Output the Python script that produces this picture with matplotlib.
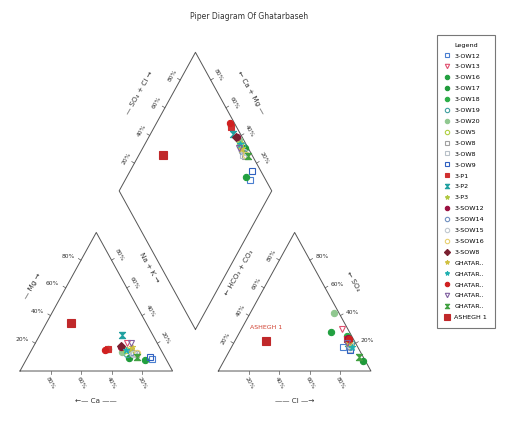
import numpy as np
import matplotlib.pyplot as plt
from matplotlib.path import Path

# Sample names, as in the legend
names = ['3-OW12', '3-OW13', '3-OW16', '3-OW17', '3-OW18', '3-OW19', '3-OW20',
         '3-OW5', '3-OW8', '3-OW8', '3-OW9', '3-P1', '3-P2', '3-P3', '3-SOW12',
         '3-SOW14', '3-SOW15', '3-SOW16', '3-SOW8', 'GHATAR..', 'GHATAR..',
         'GHATAR..', 'GHATAR..', 'GHATAR..', 'ASHEGH 1']

# Cations (% meq)
mg = [9, 20, 8, 9.5, 16, 12, 14, 15, 12, 13, 10, 16, 26, 16, 17, 14, 12, 13, 18,
      17, 15, 15, 20, 10, 35]
nak = [82, 60, 78, 67, 50, 64, 60, 62, 70, 68, 80, 50, 54, 65, 58, 66, 68, 70, 57,
       65, 62, 48, 63, 72, 16]
ca = [100 - a - b for a, b in zip(mg, nak)]

# Anions (% meq)
so4 = [17, 30, 28, 7, 25, 20, 42, 22, 18, 16, 15, 23, 20, 18, 24, 17, 19, 21, 22,
       20, 17, 23, 20, 10, 22]
cl = [73, 66, 60, 91, 72, 77, 55, 74, 77, 78, 79, 73, 75, 78, 73, 78, 77, 75, 74,
      75, 79, 74, 74, 87, 20]
hco3 = [100 - a - b for a, b in zip(so4, cl)]

# Marker style for each sample: (marker, colour, filled)
hourglass = Path([(-1, 1), (1, 1), (-1, -1), (1, -1), (-1, 1)])
styles = [('s', '#4a7fd0', False), ('v', '#e05070', False), ('o', '#22a040', True),
          ('o', '#1f9a3a', True), ('o', '#2cae48', True), ('o', '#40a0a0', False),
          ('o', '#90c890', True), ('o', '#b0d040', False), ('s', '#a0a0a0', False),
          ('s', '#b8c0c8', False), ('s', '#3060c0', False), ('s', '#d03030', True),
          (hourglass, '#20a0a0', True), ('*', '#b0c840', True), ('o', '#9a1040', True),
          ('o', '#7090c0', False), ('o', '#c0c8d0', False), ('o', '#e8d070', False),
          ('D', '#7a2030', True), ('*', '#d0c040', True), ('*', '#20b0b0', True),
          ('o', '#d02020', True), ('v', '#8060a0', False), (hourglass, '#40a040', True),
          ('s', '#c0282a', True)]

h = np.sqrt(3) / 2
gap = 30
x0r = 100 + gap


def cat_xy(c, m, n):
    t = c + m + n
    return 100 * (n + m / 2) / t, 100 * m / t * h


def an_xy(b, s, c):
    t = b + s + c
    return x0r + 100 * (c + s / 2) / t, 100 * s / t * h


def dia_xy(c, m, n, b, s, cc):
    A = (c + m) / (c + m + n)
    B = (s + cc) / (b + s + cc)
    return 100 + gap / 2 + 50 * (B - A), gap / 2 * np.sqrt(3) + 100 * h * (A + B)


fig = plt.figure(figsize=(5.11, 4.41), dpi=100)
ax = fig.add_axes([0, 0, 1, 1])
ax.set_xlim(-13.1, 321.8)
ax.set_ylim(-43.75, 231.9)
ax.axis('off')

lc = '#555555'
tc = '#333333'
fs = 4.3

# outlines
ax.plot([0, 100, 50, 0], [0, 0, 100 * h, 0], color=lc, lw=0.7)
ax.plot([x0r, x0r + 100, x0r + 50, x0r], [0, 0, 100 * h, 0], color=lc, lw=0.7)
xb, yb = 100 + gap / 2, gap / 2 * np.sqrt(3)
ax.plot([xb, xb - 50, xb, xb + 50, xb], [yb, yb + 100 * h, yb + 200 * h, yb + 100 * h, yb],
        color=lc, lw=0.7)


def tick(px, py, dx, dy, ln=2.0):
    ax.plot([px, px + dx * ln], [py, py + dy * ln], color=lc, lw=0.5)


for p in [20, 40, 60, 80]:
    # left triangle, bottom (Ca)
    tick(p, 0, 0, -1)
    ax.text(p, -3, f'{100 - p}%', rotation=-60, ha='center', va='top', fontsize=fs, color=tc)
    # left triangle, left edge (Mg)
    px, py = p / 2, p * h
    tick(px, py, -h, 0.5)
    ax.text(px - 5 * h, py + 2.5, f'{p}%', ha='right', va='center', fontsize=fs, color=tc)
    # left triangle, right edge (Na + K)
    px, py = 100 - p / 2, p * h
    tick(px, py, h, 0.5)
    ax.text(px + 6 * h, py + 3, f'{p}%', rotation=-60, ha='center', va='center', fontsize=fs, color=tc)
    # right triangle, bottom (Cl)
    tick(x0r + p, 0, 0, -1)
    ax.text(x0r + p, -3, f'{p}%', rotation=-60, ha='center', va='top', fontsize=fs, color=tc)
    # right triangle, right edge (SO4)
    px, py = x0r + 100 - p / 2, p * h
    tick(px, py, h, 0.5)
    ax.text(px + 4 * h, py + 2, f'{p}%', ha='left', va='center', fontsize=fs, color=tc)
    # right triangle, left edge (HCO3 + CO3)
    px, py = x0r + p / 2, p * h
    tick(px, py, -h, 0.5)
    ax.text(px - 6 * h, py + 3, f'{p}%', rotation=60, ha='center', va='center', fontsize=fs, color=tc)
    # diamond, upper left edge (SO4 + Cl)
    px, py = xb - 50 + p / 2, yb + 100 * h + p * h
    tick(px, py, -h, 0.5)
    ax.text(px - 6 * h, py + 3, f'{p}%', rotation=60, ha='center', va='center', fontsize=fs, color=tc)
    # diamond, upper right edge (Ca + Mg)
    px, py = xb + 50 - p / 2, yb + 100 * h + p * h
    tick(px, py, h, 0.5)
    ax.text(px + 6 * h, py + 3, f'{p}%', rotation=-60, ha='center', va='center', fontsize=fs, color=tc)

afs = 5.2
ax.text(50, -19, '\u2190\u2014 Ca \u2014\u2014', ha='center', va='center', fontsize=afs, color=tc)
ax.text(x0r + 50, -19, '\u2014\u2014 Cl \u2014\u2192', ha='center', va='center', fontsize=afs, color=tc)
ax.text(25 - 19 * h, 50 * h + 9.5, '\u2014 Mg \u2192', rotation=60, ha='center', va='center', fontsize=afs, color=tc)
ax.text(100 - 32 + 19 * h, 64 * h + 9.5, 'Na + K \u2192', rotation=-60, ha='center', va='center', fontsize=afs, color=tc)
ax.text(x0r + 100 - 27 + 18 * h, 54 * h + 9, '\u2190 SO\u2084', rotation=-60, ha='center', va='center', fontsize=afs, color=tc)
ax.text(x0r + 30 - 19 * h, 60 * h + 9.5, '\u2190 HCO\u2083 + CO\u2083', rotation=60, ha='center', va='center', fontsize=afs, color=tc)
ax.text(xb - 50 + 30 - 19 * h, yb + 100 * h + 60 * h + 9.5, '\u2014 SO\u2084 + Cl \u2192', rotation=60,
        ha='center', va='center', fontsize=afs, color=tc)
ax.text(xb + 50 - 30 + 19 * h, yb + 100 * h + 60 * h + 9.5, '\u2190 Ca + Mg \u2014', rotation=-60,
        ha='center', va='center', fontsize=afs, color=tc)

# data points
for i, name in enumerate(names):
    mk, col, filled = styles[i]
    ms = 5.5 if name == 'ASHEGH 1' else 4.5
    fc = col if filled else 'none'
    pts = [cat_xy(ca[i], mg[i], nak[i]), an_xy(hco3[i], so4[i], cl[i]),
           dia_xy(ca[i], mg[i], nak[i], hco3[i], so4[i], cl[i])]
    for j, (px, py) in enumerate(pts):
        ax.plot(px, py, marker=mk, ms=ms, mfc=fc, mec=col, mew=0.8, ls='none',
                label=name if j == 0 else None)

# sample label in the anion triangle
bx, by = an_xy(hco3[-1], so4[-1], cl[-1])
ax.text(bx, by + 8, 'ASHEGH 1', ha='center', va='center', fontsize=4.5, color='#d04030')

fig.text(0.487, 0.963, 'Piper Diagram Of Ghatarbaseh', ha='center', va='center', fontsize=5.5, color=tc)

leg = ax.legend(loc='upper left', bbox_to_anchor=(437 / 511, 1 - 35 / 441), bbox_transform=fig.transFigure,
                fontsize=4.6, title='Legend', title_fontsize=4.6, frameon=True, fancybox=False,
                edgecolor='#555555', labelspacing=0.85, handlelength=0.8, handletextpad=0.7,
                borderpad=1.2, borderaxespad=0, markerscale=0.7)
leg.get_frame().set_linewidth(0.8)

fig.savefig('out.png', dpi=100)
